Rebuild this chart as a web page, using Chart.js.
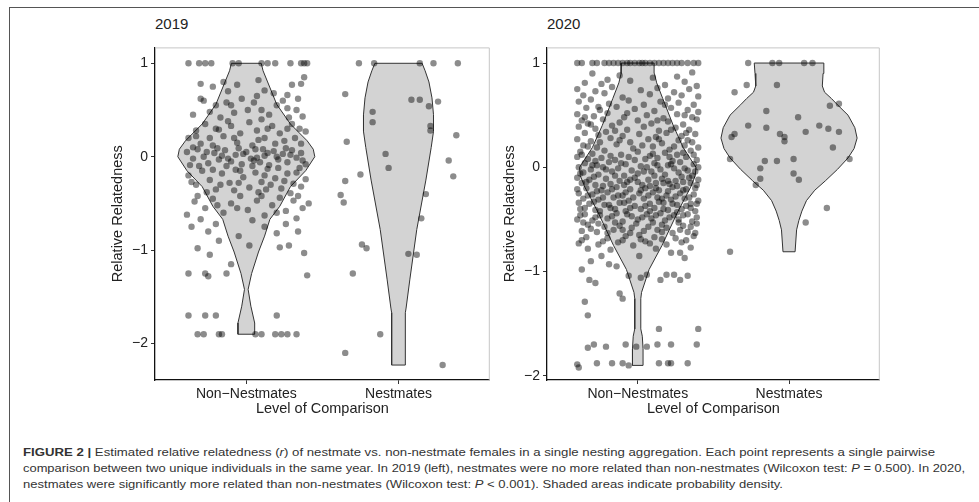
<!DOCTYPE html>
<html lang="en">
<head>
  <meta charset="UTF-8" />
  <title>Figure 2 - relative relatedness</title>
  <style>
    body {
      margin: 0;
      width: 979px;
      height: 502px;
      position: relative;
      overflow: hidden;
      background: white;
      font-family: "Liberation Sans", Arial, sans-serif;
      color: #222;
    }
    .frame-top { position: absolute; left: 10px; top: 7px; width: 969px; height: 0; border-top: 1.5px solid #555; }
    .frame-left { position: absolute; left: 9px; top: 7px; width: 0; height: 495px; border-left: 1.5px solid #555; }
    .panel { position: absolute; }
    .ptitle { position: absolute; top: 15px; font-size: 15px; }
    .caption { position: absolute; left: 23px; top: 444px; font-size: 11px; line-height: 16px; color: #333; }
    .cap-line { display: block; white-space: nowrap; transform-origin: left center; width: max-content; }
  </style>
</head>
<body>
  <div class="frame-top"></div>
  <div class="frame-left"></div>

  <div class="ptitle" style="left:155px;">2019</div>
  <div class="ptitle" style="left:547px;">2020</div>

  <div class="panel" style="left:105px; top:36px; width:388px; height:385px;"><canvas id="chart2019"></canvas></div>
  <div class="panel" style="left:497px; top:36px; width:386px; height:385px;"><canvas id="chart2020"></canvas></div>

  <div class="caption">
    <span class="cap-line" data-w="912"><b>FIGURE 2 |</b> Estimated relative relatedness (<i>r</i>) of nestmate vs. non-nestmate females in a single nesting aggregation. Each point represents a single pairwise</span>
    <span class="cap-line" data-w="942">comparison between two unique individuals in the same year. In 2019 (left), nestmates were no more related than non-nestmates (Wilcoxon test: <i>P</i> = 0.500). In 2020,</span>
    <span class="cap-line" data-w="760">nestmates were significantly more related than non-nestmates (Wilcoxon test: <i>P</i> &lt; 0.001). Shaded areas indicate probability density.</span>
  </div>

  <script src="https://cdn.jsdelivr.net/npm/chart.js"></script>
  <script>
    // categories and axis ticks
    const categories = ['Non\u2212Nestmates', 'Nestmates'];
    const yTicks = [-2, -1, 0, 1];
    const yTickLabels = ['\u22122', '\u22121', '0', '1'];

    // violin outlines: [relatedness, half width]
    const violinNon2019 = [[-1.9,0.055],[-1.78,0.055],[-1.6,0.03],[-1.42,0.012],[-1.25,0.035],[-1.02,0.08],[-0.85,0.12],[-0.67,0.155],[-0.53,0.22],[-0.32,0.29],[-0.15,0.39],[0,0.45],[0.08,0.44],[0.17,0.4],[0.35,0.29],[0.56,0.2],[0.8,0.14],[0.92,0.11],[1,0.098]];
    const violinNest2019 = [[-2.23,0.045],[-1.67,0.045],[-1.62,0.05],[-1.31,0.075],[-0.78,0.12],[-0.25,0.18],[0.1,0.215],[0.27,0.23],[0.45,0.23],[0.63,0.22],[0.8,0.2],[0.92,0.175],[1,0.155]];
    const violinNon2020 = [[-1.9,0.035],[-1.74,0.035],[-1.62,0.03],[-1.55,0.02],[-1.26,0.02],[-1.2,0.025],[-0.98,0.075],[-0.75,0.16],[-0.44,0.26],[-0.3,0.31],[-0.19,0.35],[-0.08,0.38],[0,0.385],[0.1,0.34],[0.19,0.3],[0.4,0.235],[0.66,0.165],[0.81,0.125],[0.9,0.11],[1,0.108]];
    const violinNest2020 = [[-0.81,0.04],[-0.6,0.05],[-0.51,0.065],[-0.42,0.085],[-0.32,0.115],[-0.22,0.17],[-0.13,0.24],[-0.02,0.32],[0.09,0.39],[0.18,0.43],[0.28,0.45],[0.38,0.435],[0.5,0.39],[0.6,0.32],[0.66,0.28],[0.72,0.235],[0.78,0.22],[0.9,0.225],[1,0.23]];

    // pairwise comparisons: [horizontal jitter, relatedness]
    const pointsNon2019 = [
      [-0.38,1],[-0.31,1],[-0.27,1],[-0.23,1],[-0.09,1],[-0.05,1],[0.1,1],[0.14,1],[0.19,1],[0.29,1],[0.38,1],[0.4,1],[0.36,1],
      [-0.3,0.78],[-0.22,0.75],[-0.15,0.8],[-0.06,0.77],[0.08,0.82],[0.18,0.68],[0.3,0.77],[0.38,0.85],[0.36,0.78],[-0.12,0.7],[0.27,0.66],[0.12,0.71],
      [-0.35,0.45],[-0.28,0.6],[-0.2,0.55],[-0.13,0.58],[-0.03,0.62],[0.05,0.58],[0.1,0.5],[0.2,0.55],[0.24,0.6],[0.33,0.5],[0.37,0.43],[-0.24,0.48],[-0.08,0.47],[0.15,0.45],[0.28,0.42],[-0.17,0.42],[0.01,0.5],[0.34,0.62],
      [-0.3,0.62],[-0.1,0.55],[0.07,0.65],[0.27,0.52],
      [-0.38,0.2],[-0.33,0.28],[-0.27,0.35],[-0.2,0.3],[-0.15,0.22],[-0.1,0.33],[-0.04,0.25],[0.02,0.37],[0.07,0.28],[0.12,0.2],[0.17,0.33],[0.22,0.25],[0.27,0.3],[0.32,0.2],[0.39,0.27],[-0.3,0.14],[-0.22,0.12],[-0.06,0.15],[0.04,0.12],[0.19,0.14],[0.3,0.35],[-0.12,0.38],[0.1,0.4],[0.36,0.14],
      [-0.33,0.22],[-0.24,0.2],[-0.08,0.2],[0.08,0.18],[0.25,0.17],[0.35,0.3],[-0.18,0.29],[0.14,0.3],
      [-0.39,0.05],[-0.35,-0.02],[-0.32,0.08],[-0.28,0.0],[-0.25,-0.07],[-0.21,0.04],[-0.18,-0.03],[-0.14,0.07],[-0.1,-0.05],[-0.07,0.02],[-0.03,-0.08],[0.0,0.05],[0.03,-0.02],[0.06,0.08],[0.09,-0.06],[0.12,0.01],[0.15,-0.09],[0.18,0.06],[0.21,-0.03],[0.24,0.03],[0.27,-0.06],[0.3,0.07],[0.33,-0.01],[0.36,0.04],[0.39,-0.08],[-0.37,-0.09],[-0.16,0.01],[0.07,-0.01],[0.26,0.09],[-0.05,0.09],[0.14,0.04],
      [-0.35,0.1],[-0.26,0.05],[-0.19,0.09],[-0.12,-0.02],[-0.02,0.03],[0.05,-0.04],[0.11,0.08],[0.2,0.0],[0.29,0.02],[0.37,-0.04],
      [-0.31,-0.1],[-0.22,-0.14],[-0.13,-0.1],[-0.04,-0.15],[0.04,-0.1],[0.12,-0.2],[0.21,-0.12],[0.33,-0.17],
      [-0.38,-0.2],[-0.33,-0.3],[-0.29,-0.15],[-0.24,-0.25],[-0.2,-0.35],[-0.16,-0.18],[-0.11,-0.28],[-0.07,-0.14],[-0.02,-0.22],[0.02,-0.33],[0.06,-0.17],[0.1,-0.27],[0.14,-0.13],[0.19,-0.23],[0.23,-0.34],[0.27,-0.18],[0.31,-0.29],[0.35,-0.12],[0.39,-0.24],[-0.26,-0.38],[0.08,-0.38],[0.29,-0.39],[-0.08,-0.36],[0.16,-0.3],
      [-0.36,-0.27],[-0.17,-0.3],[-0.05,-0.28],[0.13,-0.35],[0.25,-0.26],[0.36,-0.32],
      [-0.39,-0.62],[-0.34,-0.48],[-0.27,-0.55],[-0.22,-0.45],[-0.15,-0.6],[-0.1,-0.5],[-0.04,-0.42],[0.01,-0.57],[0.07,-0.47],[0.12,-0.63],[0.17,-0.52],[0.22,-0.44],[0.26,-0.58],[0.31,-0.47],[0.37,-0.55],[-0.3,-0.67],[0.04,-0.68],[0.33,-0.66],[0.41,-0.5],
      [-0.32,-0.42],[-0.19,-0.52],[-0.06,-0.55],[0.1,-0.42],[0.2,-0.6],[0.34,-0.42],
      [-0.36,-0.75],[-0.25,-0.8],[-0.2,-0.72],[-0.32,-0.98],[-0.18,-0.9],[-0.05,-0.85],[0.02,-0.95],[0.12,-0.75],[0.2,-0.82],[0.28,-0.95],[0.34,-0.8],[0.38,-1.03],[0.26,-0.72],[-0.24,-1.05],[0.22,-0.97],
      [-0.38,-1.25],[-0.27,-1.25],[-0.25,-1.28],[-0.13,-1.25],[0.4,-1.27],[-0.38,-1.7],[-0.27,-1.7],[-0.2,-1.7],[0.2,-1.7],[-0.1,-1.15],
      [-0.32,-1.9],[-0.28,-1.9],[-0.18,-1.9],[-0.16,-1.9],[0.06,-1.9],[0.1,-1.9],[0.19,-1.9],[0.23,-1.9],[0.27,-1.9],[0.33,-1.9]
    ];
    const pointsNest2019 = [
      [-0.26,1],[-0.16,1],[0.14,1],[0.23,1],[0.39,1],[-0.35,0.67],[0.085,0.61],[0.14,0.61],[0.2,0.54],[0.26,0.59],
      [-0.17,0.48],[-0.17,0.37],[0.21,0.33],[0.21,0.28],[0.38,0.23],[-0.34,0.16],[-0.085,0.03],[-0.065,-0.12],[0.33,-0.04],
      [0.36,-0.21],[-0.25,-0.19],[-0.35,-0.26],[-0.38,-0.41],[-0.36,-0.49],[0.18,-0.4],[0.15,-0.66],[-0.24,-0.94],[-0.21,-0.98],
      [0.065,-1.04],[0.12,-1.05],[-0.3,-1.25],[-0.12,-1.9],[-0.35,-2.1],[0.29,-2.23]
    ];
    const pointsNon2020 = [
      [-0.4,1],[-0.37,1],[-0.3,1],[-0.27,1],[-0.22,1],[-0.19,1],[-0.16,1],[-0.13,1],[-0.1,1],[-0.07,1],[-0.05,1],[-0.02,1],[0.01,1],[0.03,1],[0.05,1],[0.08,1],[0.11,1],[0.14,1],[0.17,1],[0.2,1],[0.23,1],[0.26,1],[0.29,1],[0.33,1],[0.37,1],[0.4,1],
      [-0.3,0.9],[-0.12,0.88],[0.26,0.87],[0.36,0.91],[0.1,0.86],[-0.2,0.84],
      [-0.35,0.81],[-0.24,0.8],[-0.05,0.83],[0.18,0.79],[0.31,0.82],[0.39,0.78],
      [-0.4,0.75],[-0.28,0.73],[-0.17,0.77],[0.02,0.74],[0.13,0.76],[0.24,0.72],[0.34,0.75],
      [-0.36,0.69],[-0.22,0.71],[-0.1,0.67],[0.08,0.7],[0.2,0.66],[0.29,0.69],[0.4,0.68],
      [-0.39,0.63],[-0.31,0.65],[-0.19,0.61],[-0.06,0.64],[0.04,0.6],[0.15,0.63],[0.27,0.62],[0.37,0.6],
      [-0.34,0.57],[-0.25,0.55],[-0.14,0.58],[-0.02,0.56],[0.11,0.54],[0.22,0.57],[0.33,0.55],[0.4,0.53],
      [-0.26,0.58],[-0.07,0.52],[0.18,0.6],[0.31,0.5],[-0.35,0.48],[0.13,0.45],[-0.15,0.35],[0.22,0.36],[0.32,0.33],[-0.31,0.41],
      [-0.4,0.51],[-0.29,0.49],[-0.2,0.52],[-0.09,0.48],[0.06,0.5],[0.17,0.47],[0.26,0.51],[0.36,0.48],
      [-0.37,0.45],[-0.33,0.42],[-0.23,0.46],[-0.12,0.43],[0.0,0.45],[0.09,0.42],[0.2,0.44],[0.3,0.41],[0.39,0.46],
      [-0.39,0.39],[-0.28,0.37],[-0.17,0.4],[-0.07,0.36],[0.04,0.39],[0.14,0.35],[0.25,0.38],[0.34,0.36],
      [-0.35,0.33],[-0.26,0.31],[-0.21,0.34],[-0.1,0.3],[0.01,0.32],[0.12,0.29],[0.19,0.33],[0.29,0.3],[0.38,0.32],
      [-0.4,0.27],[-0.31,0.25],[-0.18,0.28],[-0.05,0.24],[0.07,0.27],[0.16,0.23],[0.27,0.26],[0.36,0.24],
      [-0.36,0.21],[-0.27,0.19],[-0.14,0.22],[-0.03,0.18],[0.1,0.2],[0.21,0.17],[0.31,0.21],[0.4,0.19],
      [-0.33,0.2],[-0.25,0.24],[-0.12,0.26],[0.03,0.21],[0.14,0.27],[0.24,0.2],[0.33,0.26],
      [-0.38,0.15],[-0.3,0.13],[-0.22,0.16],[-0.11,0.12],[0.0,0.15],[0.08,0.11],[0.18,0.14],[0.26,0.12],[0.35,0.16],
      [-0.37,0.12],[-0.28,0.06],[-0.18,0.11],[-0.02,0.07],[0.1,0.13],[0.21,0.1],[0.3,0.14],[0.37,0.12],
      [-0.4,0.1],[-0.33,0.08],[-0.24,0.09],[-0.15,0.07],[-0.06,0.1],[0.05,0.08],[0.13,0.09],[0.23,0.06],[0.32,0.1],[0.39,0.07],
      [-0.35,0.04],[-0.27,0.02],[-0.19,0.05],[-0.08,0.03],[0.02,0.01],[0.11,0.04],[0.2,0.02],[0.28,0.05],[0.37,0.03],
      [-0.3,0.02],[-0.21,-0.02],[-0.11,0.04],[0.04,-0.04],[0.13,0.02],[0.22,0.03],[0.31,-0.01],[0.38,-0.04],
      [-0.39,0.0],[-0.31,-0.02],[-0.23,0.0],[-0.13,-0.01],[-0.04,-0.03],[0.06,0.0],[0.15,-0.02],[0.24,-0.01],[0.33,-0.03],[0.4,0.0],
      [-0.36,-0.05],[-0.26,-0.07],[-0.17,-0.04],[-0.09,-0.08],[0.0,-0.06],[0.09,-0.04],[0.18,-0.07],[0.27,-0.05],[0.36,-0.08],
      [-0.38,-0.06],[-0.29,-0.09],[-0.15,-0.08],[-0.05,-0.12],[0.11,-0.08],[0.2,-0.13],[0.29,-0.09],[0.4,-0.12],
      [-0.4,-0.1],[-0.32,-0.12],[-0.21,-0.11],[-0.12,-0.13],[-0.02,-0.1],[0.07,-0.12],[0.16,-0.11],[0.25,-0.13],[0.34,-0.1],
      [-0.37,-0.15],[-0.28,-0.17],[-0.18,-0.16],[-0.07,-0.14],[0.03,-0.17],[0.12,-0.15],[0.21,-0.16],[0.3,-0.14],[0.39,-0.17],
      [-0.34,-0.14],[-0.23,-0.18],[-0.09,-0.17],[0.0,-0.14],[0.08,-0.18],[0.17,-0.15],[0.26,-0.18],[0.35,-0.15],
      [-0.34,-0.2],[-0.24,-0.22],[-0.14,-0.19],[-0.05,-0.21],[0.05,-0.2],[0.14,-0.22],[0.23,-0.19],[0.32,-0.21],
      [-0.4,-0.21],[-0.27,-0.23],[-0.17,-0.21],[-0.08,-0.24],[0.02,-0.22],[0.12,-0.2],[0.2,-0.23],[0.3,-0.22],[0.38,-0.2],
      [-0.39,-0.25],[-0.3,-0.26],[-0.2,-0.24],[-0.1,-0.27],[0.01,-0.25],[0.1,-0.24],[0.19,-0.27],[0.28,-0.25],[0.37,-0.26],
      [-0.33,-0.27],[-0.23,-0.29],[-0.13,-0.27],[-0.03,-0.29],[0.07,-0.27],[0.16,-0.3],[0.25,-0.28],[0.34,-0.29],
      [-0.36,-0.3],[-0.26,-0.31],[-0.16,-0.29],[-0.06,-0.32],[0.04,-0.3],[0.13,-0.29],[0.22,-0.31],[0.31,-0.3],[0.4,-0.32],
      [-0.32,-0.35],[-0.22,-0.36],[-0.12,-0.34],[-0.02,-0.37],[0.08,-0.35],[0.17,-0.34],[0.26,-0.36],[0.35,-0.35],
      [-0.39,-0.34],[-0.29,-0.33],[-0.19,-0.36],[-0.09,-0.34],[0.05,-0.37],[0.14,-0.33],[0.23,-0.35],[0.32,-0.37],[0.39,-0.35],
      [-0.38,-0.4],[-0.28,-0.41],[-0.18,-0.39],[-0.08,-0.42],[0.02,-0.4],[0.11,-0.39],[0.2,-0.41],[0.29,-0.4],[0.38,-0.42],
      [-0.35,-0.39],[-0.25,-0.42],[-0.15,-0.4],[-0.05,-0.39],[0.08,-0.42],[0.17,-0.4],[0.26,-0.43],[0.35,-0.39],
      [-0.35,-0.45],[-0.25,-0.46],[-0.14,-0.44],[-0.04,-0.47],[0.06,-0.45],[0.15,-0.44],[0.24,-0.46],[0.33,-0.45],
      [-0.38,-0.46],[-0.28,-0.48],[-0.17,-0.47],[-0.07,-0.45],[0.03,-0.48],[0.12,-0.46],[0.21,-0.48],[0.3,-0.46],[0.39,-0.48],
      [-0.4,-0.5],[-0.3,-0.51],[-0.2,-0.49],[-0.1,-0.52],[0.0,-0.5],[0.09,-0.49],[0.18,-0.51],[0.27,-0.5],[0.36,-0.52],
      [-0.36,-0.53],[-0.26,-0.54],[-0.15,-0.53],[-0.04,-0.58],[0.1,-0.53],[0.19,-0.58],[0.27,-0.53],[0.35,-0.57],
      [-0.33,-0.55],[-0.22,-0.57],[-0.12,-0.56],[-0.01,-0.54],[0.07,-0.57],[0.16,-0.55],[0.3,-0.56],[0.39,-0.54],
      [-0.31,-0.59],[-0.2,-0.63],[-0.1,-0.6],[0.01,-0.65],[0.16,-0.62],[0.28,-0.6],[0.38,-0.63],
      [-0.37,-0.61],[-0.27,-0.62],[-0.16,-0.6],[-0.05,-0.63],[0.04,-0.61],[0.13,-0.6],[0.23,-0.63],[0.33,-0.62],
      [-0.34,-0.67],[-0.2,-0.68],[-0.08,-0.66],[0.02,-0.69],[0.11,-0.67],[0.25,-0.68],[0.37,-0.66],
      [-0.37,-0.7],[-0.23,-0.71],[-0.1,-0.7],[0.05,-0.71],[0.16,-0.69],[0.32,-0.7],
      [-0.39,-0.73],[-0.26,-0.74],[-0.13,-0.72],[-0.03,-0.75],[0.08,-0.73],[0.19,-0.74],[0.29,-0.72],
      [-0.33,-0.78],[-0.18,-0.79],[0.12,-0.78],[0.35,-0.77],
      [0.22,-0.82],[0.28,-0.82],[0.31,-0.87],[0.01,-0.85],[-0.24,-0.85],[-0.31,-0.9],[-0.14,-0.95],[-0.19,-0.93],
      [-0.37,-0.98],[-0.32,-1.08],[-0.28,-1.11],[-0.06,-1.04],[0.02,-1.06],[0.06,-1.03],[0.15,-1.08],[0.19,-1.03],[0.24,-1.03],[0.28,-1.08],[0.33,-1.04],
      [-0.12,-1.21],[-0.1,-1.26],[-0.35,-1.29],[-0.33,-1.42],[0.14,-1.55],[0.4,-1.55],
      [-0.33,-1.73],[-0.29,-1.7],[-0.21,-1.72],[-0.08,-1.7],[-0.01,-1.72],[0.06,-1.72],[0.13,-1.7],[0.22,-1.7],[0.39,-1.7],
      [-0.4,-1.89],[-0.39,-1.92],[-0.27,-1.88],[-0.17,-1.88],[-0.1,-1.88],[-0.06,-1.9],[0.14,-1.88],[0.2,-1.88],[0.22,-1.88],[0.33,-1.88]
    ];
    const pointsNest2020 = [
      [-0.27,1],[-0.11,1],[-0.065,1],[0.1,1],[0.155,1],[-0.28,0.79],[-0.08,0.79],[-0.36,0.72],[0.33,0.61],[0.27,0.59],
      [-0.15,0.54],[0.06,0.48],[-0.27,0.4],[-0.15,0.38],[0.2,0.4],[0.26,0.37],[0.33,0.34],[0.11,0.34],[-0.36,0.32],[-0.38,0.29],
      [-0.06,0.32],[-0.03,0.29],[-0.03,0.25],[0.29,0.19],[-0.39,0.08],[0.4,0.08],[-0.16,0.06],[-0.08,0.06],[0.03,0.08],
      [-0.19,-0.01],[0.03,-0.06],[-0.19,-0.11],[0.065,-0.12],[-0.22,-0.17],[0.25,-0.39],[0.11,-0.53],[-0.39,-0.81]
    ];

    const axisFont = { family: '"Liberation Sans", Arial, sans-serif', size: 14 };
    const titleFont = { family: '"Liberation Sans", Arial, sans-serif', size: 14.5 };

    function outline(center, profile) {
      const right = profile.map(p => ({ x: center + p[1], y: p[0] }));
      const left = profile.slice().reverse().map(p => ({ x: center - p[1], y: p[0] }));
      const pts = right.concat(left);
      pts.push(pts[0]);
      return pts;
    }

    function jitter(center, pts) {
      return pts.map(p => ({ x: center + p[0], y: p[1] }));
    }

    // light grey top and right edges of each panel
    const panelFrame = {
      id: 'panelFrame',
      beforeDatasetsDraw(chart) {
        const a = chart.chartArea, c = chart.ctx;
        c.save();
        c.strokeStyle = '#c6c6c6';
        c.lineWidth = 1;
        c.beginPath();
        c.moveTo(a.left, a.top + 0.5);
        c.lineTo(a.right - 0.5, a.top + 0.5);
        c.lineTo(a.right - 0.5, a.bottom);
        c.stroke();
        c.restore();
      }
    };

    function violinSet(data) {
      return {
        type: 'scatter', data: data, showLine: true, fill: 'shape', tension: 0,
        backgroundColor: '#d3d3d3', borderColor: '#333', borderWidth: 1,
        pointRadius: 0, order: 2
      };
    }
    function pointSet(data) {
      return {
        type: 'scatter', data: data, pointRadius: 3.2, pointHoverRadius: 3.2,
        backgroundColor: 'rgba(0,0,0,0.45)', borderWidth: 0, order: 1
      };
    }

    function makePanel(id, violins, points, yMin, yMax) {
      new Chart(document.getElementById(id), {
        type: 'scatter',
        data: {
          datasets: [
            pointSet(jitter(1, points[0])),
            pointSet(jitter(2, points[1])),
            violinSet(outline(1, violins[0])),
            violinSet(outline(2, violins[1]))
          ]
        },
        options: {
          responsive: true,
          maintainAspectRatio: false,
          animation: false,
          layout: { padding: { top: 6, right: 0, bottom: 0, left: 0 } },
          plugins: { legend: { display: false }, tooltip: { enabled: false } },
          scales: {
            x: {
              type: 'linear', min: 0.4, max: 2.6,
              afterBuildTicks: s => { s.ticks = [1, 2].map(v => ({ value: v })); },
              afterFit: s => { s.height = 41; },
              ticks: { callback: v => categories[v - 1], font: axisFont, color: '#222', padding: 2, autoSkip: false, maxRotation: 0 },
              grid: { drawOnChartArea: false, drawTicks: true, tickLength: 4, color: '#333' },
              border: { display: true, color: '#111', width: 1.3 },
              title: { display: true, text: 'Level of Comparison', font: titleFont, color: '#222', padding: { top: 2, bottom: 3 } }
            },
            y: {
              type: 'linear', min: yMin, max: yMax,
              afterBuildTicks: s => { s.ticks = yTicks.map(v => ({ value: v })); },
              afterFit: s => { s.width = 50; },
              ticks: { callback: v => yTickLabels[yTicks.indexOf(v)], font: axisFont, color: '#222', padding: 3 },
              grid: { drawOnChartArea: false, drawTicks: true, tickLength: 4, color: '#333' },
              border: { display: true, color: '#111', width: 1.3 },
              title: { display: true, text: 'Relative Relatedness', font: titleFont, color: '#222' }
            }
          }
        },
        plugins: [panelFrame]
      });
    }

    makePanel('chart2019', [violinNon2019, violinNest2019], [pointsNon2019, pointsNest2019], -2.39, 1.17);
    makePanel('chart2020', [violinNon2020, violinNest2020], [pointsNon2020, pointsNest2020], -2.04, 1.15);

    // stretch caption lines to the widths of the printed caption
    document.querySelectorAll('.cap-line').forEach(el => {
      const w = el.getBoundingClientRect().width;
      el.style.transform = 'scaleX(' + (Number(el.dataset.w) / w) + ')';
    });
  </script>
</body>
</html>
